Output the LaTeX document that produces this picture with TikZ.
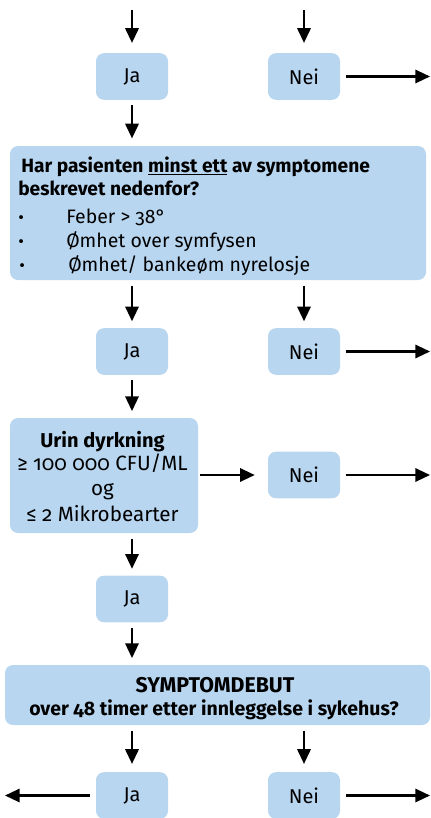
\documentclass[tikz,border=0pt]{standalone}
\usepackage{fontspec}
\setmainfont{Fira Sans}[Numbers=OldStyle]
\usetikzlibrary{arrows.meta}
\definecolor{boxblue}{RGB}{184,214,240}
\begin{document}
\begin{tikzpicture}[x=0.75pt,y=-0.75pt,
  box/.style={fill=boxblue, rounded corners=6pt, inner sep=0pt},
  small/.style={box, minimum width=54pt, minimum height=35pt, font=\fontsize{15}{18}\selectfont},
  txt/.style={inner sep=0pt, anchor=base, font=\fontsize{14.6}{17}\selectfont},
  txtl/.style={inner sep=0pt, anchor=base west, font=\fontsize{14.6}{17}\selectfont},
  bul/.style={inner sep=0pt, anchor=base west, font=\fontsize{13}{16}\selectfont},
  arr/.style={-{Triangle[length=11pt,width=10pt]}, line width=1.6pt, shorten <=4pt, shorten >=5pt},
]
\useasboundingbox (0,0) rectangle (431,818);

% row 1
\node[small] (ja1) at (132,76.5) {Ja};
\node[small] (nei1) at (304,76.5) {Nei};
\coordinate (in1) at (132,10);
\coordinate (in2) at (304,10);
\coordinate (out1) at (430,76.5);

% question 2
\node[box, minimum width=312pt, minimum height=100.5pt] (q2) at (218,213) {};
\node[txtl, font=\fontsize{14.4}{17}\bfseries] (t1) at (21,172) {Har pasienten \underline{minst ett} av symptomene};
\node[txtl, font=\fontsize{14.4}{17}\bfseries] (t2) at (18,195) {beskrevet nedenfor?};
\node[bul] (b1) at (18,223) {•};
\node[bul] (b2) at (18,247) {•};
\node[bul] (b3) at (19,271) {•};
\node[txtl] (i1) at (66,223) {Feber > 38°};
\node[txtl] (i2) at (66,247) {Ømhet over symfysen};
\node[txtl] (i3) at (68,271) {Ømhet/ bankeøm nyrelosje};

% row 2
\node[small] (ja2) at (132,351.5) {Ja};
\node[small] (nei2) at (304,351.5) {Nei};
\coordinate (out2) at (430,351.5);

% urin
\node[box, minimum width=141pt, minimum height=86.25pt] (urin) at (104,475.5) {};
\node[txt, font=\fontsize{15}{18}\bfseries] (u1) at (102.5,447) {Urin dyrkning};
\node[txt, font=\fontsize{15.5}{18}\selectfont] (u2) at (102.5,470) {≥ 100 000 CFU/ML};
\node[txt, font=\fontsize{15.5}{18}\selectfont] (u3) at (102.5,495) {og};
\node[txt, font=\fontsize{15.5}{18}\selectfont] (u4) at (102.5,521) {≤ 2 Mikrobearter};
\node[small] (nei3) at (304,475) {Nei};
\coordinate (out3) at (430,475);

% row 3
\node[small] (ja3) at (132,599) {Ja};

% question 4
\node[box, minimum width=318.75pt, minimum height=45pt] (q4) at (217.5,695) {};
\node[txt, font=\fontsize{16}{18}\bfseries] (s1) at (215,692) {SYMPTOMDEBUT};
\node[txt, font=\fontsize{14.6}{17}\bfseries] (s2) at (214,715) {over 48 timer etter innleggelse i sykehus?};

% row 4
\node[small] (ja4) at (132,795.5) {Ja};
\node[small] (nei4) at (304,795.5) {Nei};
\coordinate (out4l) at (5,795.5);
\coordinate (out4r) at (430,795.5);

% connectors
\draw[arr, shorten <=0pt, shorten >=7.5pt] (in1) -- (ja1);
\draw[arr, shorten <=0pt, shorten >=7.5pt] (in2) -- (nei1);
\draw[arr, shorten >=0pt] (nei1) -- (out1);
\draw[arr, shorten >=5.5pt] (ja1.south) -- (ja1.south |- q2.north);
\draw[arr] (ja1.south |- q2.south) -- (ja2);
\draw[arr] (nei1.south |- q2.south) -- (nei2);
\draw[arr, shorten >=0pt] (nei2) -- (out2);
\draw[arr] (ja2.south) -- (ja2.south |- urin.north);
\draw[arr, shorten <=1.5pt, shorten >=9.75pt] (urin.east |- nei3) -- (nei3);
\draw[arr, shorten >=0pt] (nei3) -- (out3);
\draw[arr] (ja2.south |- urin.south) -- (ja3);
\draw[arr] (ja3.south) -- (ja3.south |- q4.north);
\draw[arr, shorten >=6pt] (ja4.north |- q4.south) -- (ja4);
\draw[arr, shorten >=6pt] (nei4.north |- q4.south) -- (nei4);
\draw[arr, shorten >=0pt] (ja4) -- (out4l);
\draw[arr, shorten >=0pt] (nei4) -- (out4r);
\end{tikzpicture}
\end{document}
